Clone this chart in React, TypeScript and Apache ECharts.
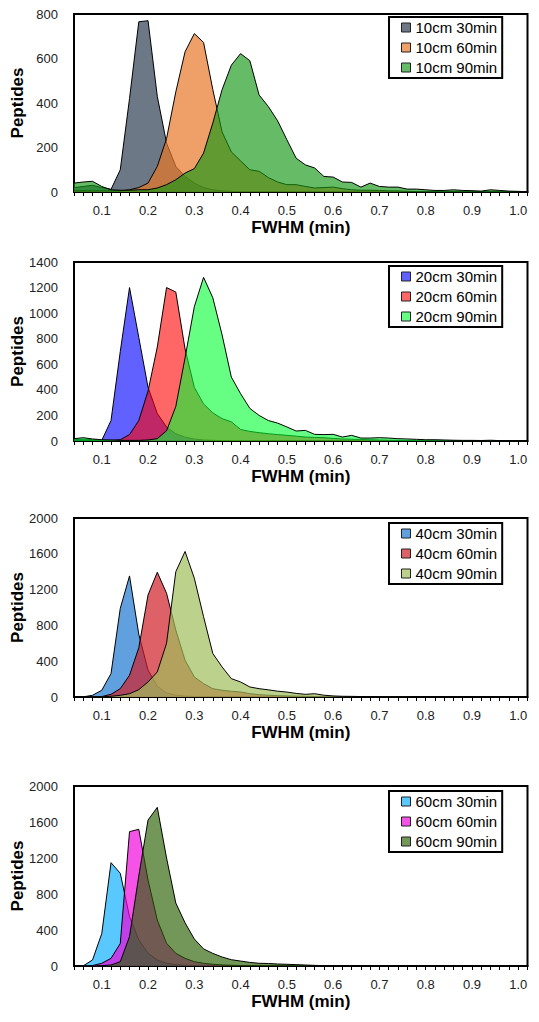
import React, { useEffect, useRef } from "react";
import * as echarts from "echarts";

// FWHM bin centres (min)
const fwhm = [
  "0.04", "0.06", "0.08", "0.10", "0.12", "0.14", "0.16", "0.18", "0.20", "0.22",
  "0.24", "0.26", "0.28", "0.30", "0.32", "0.34", "0.36", "0.38", "0.40", "0.42",
  "0.44", "0.46", "0.48", "0.50", "0.52", "0.54", "0.56", "0.58", "0.60", "0.62",
  "0.64", "0.66", "0.68", "0.70", "0.72", "0.74", "0.76", "0.78", "0.80", "0.82",
  "0.84", "0.86", "0.88", "0.90", "0.92", "0.94", "0.96", "0.98", "1.00", "1.02",
];
const labelledTicks = ["0.10", "0.20", "0.30", "0.40", "0.50", "0.60", "0.70", "0.80", "0.90", "1.00"];

// 10 cm column
const p10cm30 = [
  20, 25, 30, 20, 12, 100, 420, 765, 770, 430,
  220, 115, 70, 40, 20, 10, 5, 3, 0, 0,
  0, 0, 0, 0, 0, 0, 0, 0, 0, 0,
  0, 0, 0, 0, 0, 0, 0, 0, 0, 0,
  0, 0, 0, 0, 0, 0, 0, 0, 0, 0,
];
const p10cm60 = [
  5, 5, 5, 5, 5, 5, 10, 20, 40, 115,
  240, 450, 630, 712, 672, 460, 270, 180, 140, 100,
  93, 65, 45, 33, 33, 25, 18, 20, 22, 15,
  10, 8, 8, 7, 5, 5, 3, 2, 1, 0,
  0, 0, 0, 0, 0, 0, 0, 0, 0, 0,
];
const p10cm90 = [
  40, 45, 48, 25, 10, 8, 8, 10, 10, 18,
  33, 55, 85, 105, 175, 310, 460, 570, 622, 590,
  436, 384, 320, 235, 152, 122, 108, 70, 67, 45,
  43, 22, 40, 25, 22, 22, 13, 13, 10, 7,
  7, 10, 7, 6, 4, 10, 7, 4, 3, 1,
];

// 20 cm column
const p20cm30 = [
  10, 15, 10, 5, 160, 700, 1200, 810, 420, 215,
  110, 57, 30, 15, 8, 5, 3, 0, 0, 0,
  0, 0, 0, 0, 0, 0, 0, 0, 0, 0,
  0, 0, 0, 0, 0, 0, 0, 0, 0, 0,
  0, 0, 0, 0, 0, 0, 0, 0, 0, 0,
];
const p20cm60 = [
  5, 5, 5, 5, 5, 10, 50, 160, 390, 735,
  1200, 1165, 720, 420, 290, 220, 175, 150, 90, 75,
  65, 57, 50, 44, 38, 31, 28, 26, 20, 16,
  14, 12, 10, 8, 6, 5, 3, 2, 1, 0,
  0, 0, 0, 0, 0, 0, 0, 0, 0, 0,
];
const p20cm90 = [
  18, 26, 16, 10, 8, 5, 5, 5, 8, 18,
  80, 270, 650, 1050, 1280, 1120, 830, 500, 370, 255,
  200, 160, 140, 110, 78, 83, 52, 50, 52, 31,
  44, 23, 23, 26, 23, 18, 16, 13, 10, 10,
  8, 6, 5, 5, 4, 6, 3, 2, 2, 1,
];

// 40 cm column
const p40cm30 = [
  0, 2, 19, 75, 262, 990, 1353, 700, 300, 120,
  45, 20, 10, 5, 3, 2, 1, 0, 0, 0,
  0, 0, 0, 0, 0, 0, 0, 0, 0, 0,
  0, 0, 0, 0, 0, 0, 0, 0, 0, 0,
  0, 0, 0, 0, 0, 0, 0, 0, 0, 0,
];
const p40cm60 = [
  0, 0, 2, 5, 30, 93, 243, 550, 1140, 1394,
  1159, 748, 411, 224, 150, 93, 75, 64, 56, 37,
  26, 20, 15, 12, 10, 8, 6, 4, 3, 2,
  1, 0, 0, 0, 0, 0, 0, 0, 0, 0,
  0, 0, 0, 0, 0, 0, 0, 0, 0, 0,
];
const p40cm90 = [
  0, 0, 0, 2, 8, 19, 37, 82, 168, 280,
  600, 1400, 1626, 1327, 897, 486, 336, 205, 168, 112,
  93, 80, 65, 55, 40, 30, 37, 20, 12, 8,
  7, 5, 4, 3, 2, 2, 2, 1, 1, 0,
  0, 0, 0, 0, 0, 0, 0, 0, 0, 0,
];

// 60 cm column
const p60cm30 = [
  0, 2, 67, 360, 1148, 1030, 548, 289, 141, 67,
  30, 15, 8, 4, 2, 1, 0, 0, 0, 0,
  0, 0, 0, 0, 0, 0, 0, 0, 0, 0,
  0, 0, 0, 0, 0, 0, 0, 0, 0, 0,
  0, 0, 0, 0, 0, 0, 0, 0, 0, 0,
];
const p60cm60 = [
  0, 0, 5, 30, 85, 250, 1493, 1519, 955, 511,
  252, 141, 85, 48, 30, 19, 12, 8, 5, 3,
  2, 1, 0, 0, 0, 0, 0, 0, 0, 0,
  0, 0, 0, 0, 0, 0, 0, 0, 0, 0,
  0, 0, 0, 0, 0, 0, 0, 0, 0, 0,
];
const p60cm90 = [
  0, 0, 0, 5, 11, 48, 326, 1000, 1622, 1763,
  1200, 700, 480, 300, 190, 140, 100, 70, 55, 40,
  30, 28, 22, 19, 15, 11, 7, 4, 2, 1,
  0, 0, 0, 0, 0, 0, 0, 0, 0, 0,
  0, 0, 0, 0, 0, 0, 0, 0, 0, 0,
];

const yMaxes = [800, 1400, 2000, 2000];
const yIntervals = [200, 200, 400, 400];
const seriesNames = [
  ["10cm 30min", "10cm 60min", "10cm 90min"],
  ["20cm 30min", "20cm 60min", "20cm 90min"],
  ["40cm 30min", "40cm 60min", "40cm 90min"],
  ["60cm 30min", "60cm 60min", "60cm 90min"],
];
const seriesData = [
  [p10cm30, p10cm60, p10cm90],
  [p20cm30, p20cm60, p20cm90],
  [p40cm30, p40cm60, p40cm90],
  [p60cm30, p60cm60, p60cm90],
];
const fills = [
  ["rgba(60,75,95,0.75)", "rgba(232,120,40,0.7)", "rgba(20,150,20,0.65)"],
  ["rgba(0,0,255,0.62)", "rgba(255,0,0,0.6)", "rgba(0,255,50,0.6)"],
  ["rgba(30,120,210,0.7)", "rgba(210,30,40,0.7)", "rgba(160,190,90,0.7)"],
  ["rgba(0,170,255,0.65)", "rgba(240,0,220,0.68)", "rgba(40,95,0,0.65)"],
];

const gridTops = [14, 262, 518, 786];
const gridHeights = [178, 179, 179, 180];
const legendTops = [17, 266, 523, 791];

const FONT = "'Liberation Sans', Arial, Helvetica, sans-serif";

function buildOption() {
  const grid: any[] = [];
  const xAxis: any[] = [];
  const yAxis: any[] = [];
  const series: any[] = [];
  const legend: any[] = [];
  for (let i = 0; i < 4; i++) {
    grid.push({
      left: 74,
      right: 11.5,
      top: gridTops[i],
      height: gridHeights[i],
      containLabel: false,
      outerBoundsMode: "none",
      show: true,
      borderColor: "#000",
      borderWidth: 2,
      backgroundColor: "transparent",
    });
    xAxis.push({
      type: "category",
      gridIndex: i,
      data: fwhm,
      boundaryGap: false,
      name: "FWHM (min)",
      nameLocation: "middle",
      nameGap: 27,
      nameMoveOverlap: false,
      nameTextStyle: { fontFamily: FONT, fontSize: 17, fontWeight: "bold", color: "#000" },
      axisLine: { show: true, lineStyle: { color: "#000", width: 2 } },
      axisTick: { show: true, interval: 0, length: 4, lineStyle: { color: "#000", width: 1 } },
      axisLabel: {
        interval: (_idx: number, v: string) => labelledTicks.includes(v),
        formatter: (v: string) => Number(v).toFixed(1),
        fontFamily: FONT,
        fontSize: 13,
        color: "#222",
        margin: 12,
      },
      splitLine: { show: false },
    });
    yAxis.push({
      type: "value",
      gridIndex: i,
      min: 0,
      max: yMaxes[i],
      interval: yIntervals[i],
      name: "Peptides",
      nameLocation: "middle",
      nameGap: 48,
      nameMoveOverlap: false,
      nameTextStyle: { fontFamily: FONT, fontSize: 17, fontWeight: "bold", color: "#000" },
      axisLine: { show: true, lineStyle: { color: "#000", width: 2 } },
      axisTick: { show: false },
      axisLabel: {
        fontFamily: FONT,
        fontSize: 13,
        color: "#222",
        margin: 16,
        formatter: (v: number) => String(v),
      },
      splitLine: { show: false },
    });
    for (let j = 0; j < 3; j++) {
      series.push({
        type: "line",
        name: seriesNames[i][j],
        xAxisIndex: i,
        yAxisIndex: i,
        data: seriesData[i][j],
        symbol: "none",
        showSymbol: false,
        silent: true,
        color: fills[i][j],
        lineStyle: { color: "#000", width: 1 },
        areaStyle: { color: fills[i][j], opacity: 1 },
        itemStyle: { color: fills[i][j] },
        emphasis: { disabled: true },
        z: 2 + j,
      });
    }
    legend.push({
      orient: "vertical",
      left: 389,
      top: legendTops[i],
      padding: [3, 5, 3, 12],
      itemGap: 5,
      itemWidth: 9,
      itemHeight: 9,
      borderColor: "#000",
      borderWidth: 2,
      backgroundColor: "#fff",
      selectedMode: false,
      textStyle: { fontFamily: FONT, fontSize: 15, color: "#000" },
      data: seriesNames[i].map((n, j) => ({
        name: n,
        icon: "rect",
        itemStyle: { color: fills[i][j], borderColor: "#222", borderWidth: 1 },
      })),
    });
  }
  return {
    animation: false,
    backgroundColor: "#fff",
    textStyle: { fontFamily: FONT },
    grid,
    xAxis,
    yAxis,
    series,
    legend,
  };
}

export default function App() {
  const ref = useRef<HTMLDivElement>(null);
  useEffect(() => {
    if (!ref.current) return;
    const chart = echarts.init(ref.current, undefined, { renderer: "svg" });
    chart.setOption(buildOption() as any);
    return () => chart.dispose();
  }, []);
  return (
    <div
      ref={ref}
      style={{ position: "absolute", left: 0, top: 0, width: 539, height: 1022, background: "#fff" }}
    />
  );
}
